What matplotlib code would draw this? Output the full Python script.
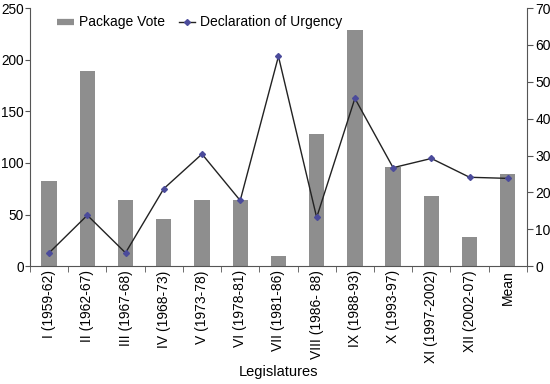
import matplotlib.pyplot as plt
from matplotlib.lines import Line2D
import numpy as np

plt.rcParams['font.family'] = ['Liberation Sans', 'DejaVu Sans']

legislatures = ["I (1959-62)", "II (1962-67)", "III (1967-68)", "IV (1968-73)",
                "V (1973-78)", "VI (1978-81)", "VII (1981-86)", "VIII (1986- 88)",
                "IX (1988-93)", "X (1993-97)", "XI (1997-2002)", "XII (2002-07)", "Mean"]
package_vote = [82, 189, 64, 46, 64, 64, 10, 128, 229, 96, 68, 28, 89]
urgency = [3.6, 13.8, 3.6, 21.0, 30.4, 17.8, 56.9, 13.2, 45.5, 26.7, 29.2, 24.1, 23.8]

x = np.arange(len(legislatures))

fig = plt.figure(figsize=(5.5, 3.84), dpi=100)
ax = fig.add_axes([0.0545, 0.307, 0.9035, 0.672])
bars = ax.bar(x, package_vote, width=0.4, color='#8e8e8e', label='Package Vote')
ax.set_xlim(-0.5, len(x) - 0.5)
ax.set_ylim(0, 250)
ax.set_yticks([0, 50, 100, 150, 200, 250])
ax.spines['top'].set_visible(False)
ax.spines['right'].set_visible(False)
for s in ['left', 'bottom']:
    ax.spines[s].set_color('#555555')

ax.set_xticks(x)
ax.set_xticklabels(legislatures, rotation=90, fontsize=10)
ax.tick_params(axis='x', which='major', length=0, pad=3)
ax.set_xticks(np.arange(len(x) + 1) - 0.5, minor=True)
ax.tick_params(axis='x', which='minor', length=4, color='#555555')
ax.tick_params(axis='y', labelsize=9.8, length=3.5, color='#555555', pad=1)
ax.set_xlabel('Legislatures', fontsize=10.5, labelpad=1)

ax2 = ax.twinx()
line, = ax2.plot(x, urgency, color='#222222', lw=1, marker='D', markersize=3,
                 markerfacecolor='#4b4b9b', markeredgecolor='#4b4b9b',
                 label='Declaration of Urgency')
ax2.set_ylim(0, 70)
ax2.set_yticks(range(0, 71, 10))
ax2.spines['top'].set_visible(False)
ax2.spines['left'].set_visible(False)
ax2.spines['bottom'].set_visible(False)
ax2.spines['right'].set_color('#555555')
ax2.tick_params(axis='y', labelsize=10, length=4, color='#555555', pad=2)

bar_handle = Line2D([], [], color='#8e8e8e', lw=4.5, solid_capstyle='butt')
ax.legend([bar_handle, line], ['Package Vote', 'Declaration of Urgency'], ncol=2,
          frameon=False, fontsize=10, loc='upper left', bbox_to_anchor=(0.03, 1.02),
          handlelength=1.2, columnspacing=1.0, handletextpad=0.35)

fig.savefig('out.png', dpi=100)
